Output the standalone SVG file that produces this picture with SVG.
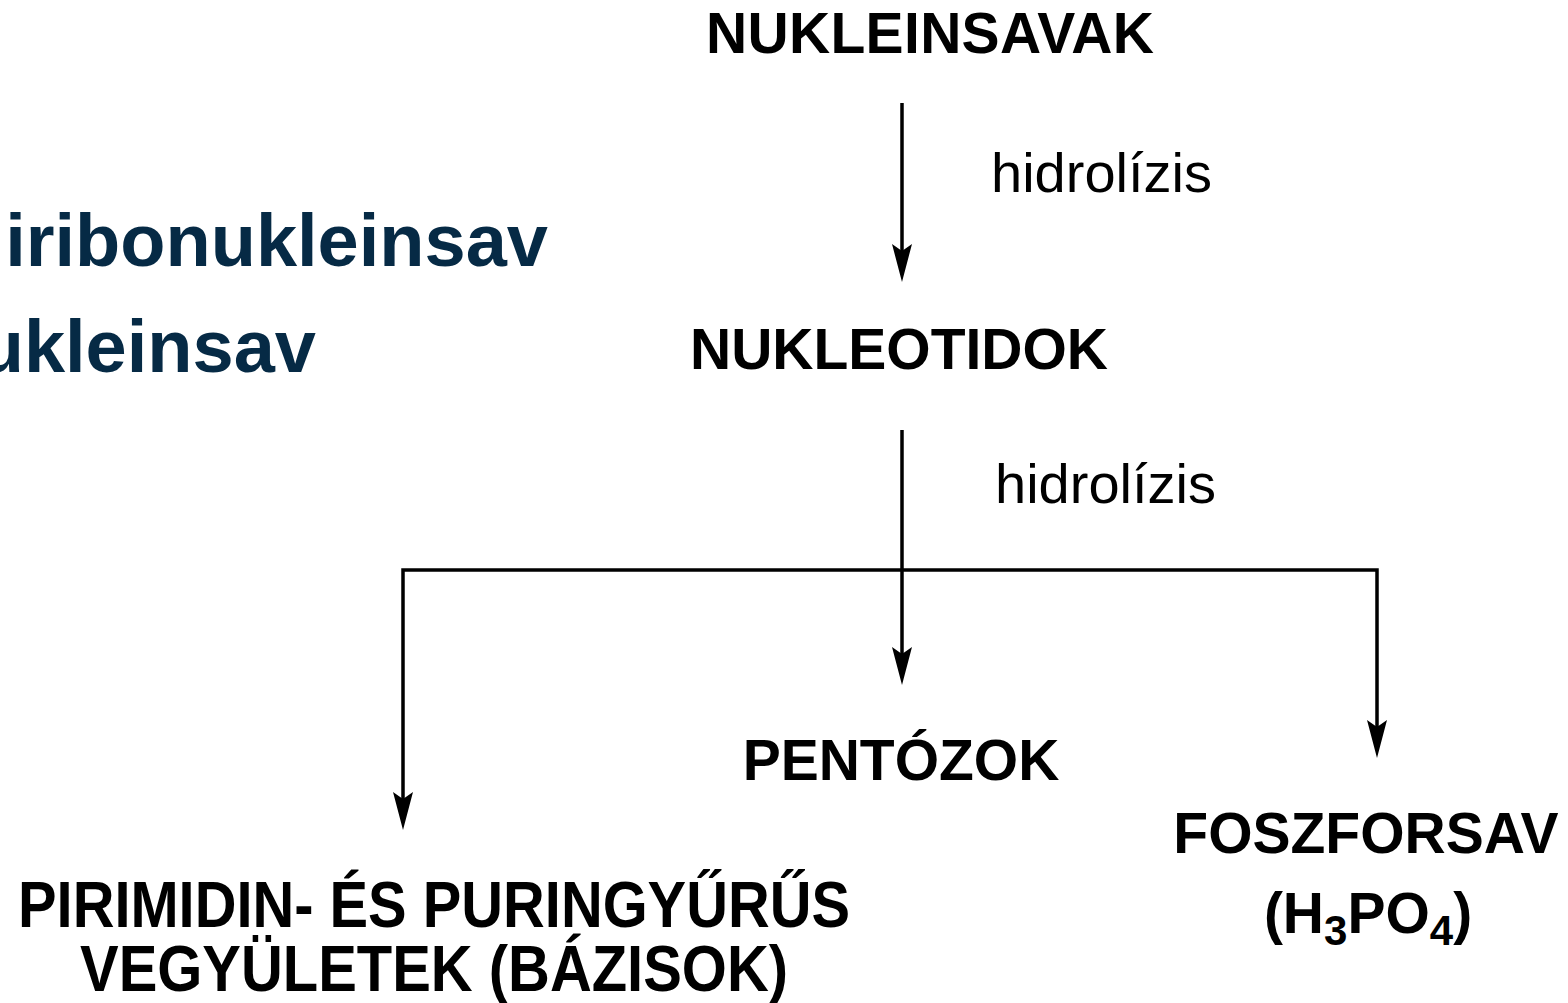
<svg xmlns="http://www.w3.org/2000/svg" width="1568" height="1003" viewBox="0 0 1568 1003">
<style>
.b{font-family:"Liberation Sans",Arial,sans-serif;font-weight:bold;font-size:57px;fill:#000;text-anchor:middle}
.r{font-family:"Liberation Sans",Arial,sans-serif;font-size:56px;fill:#000}
.n{font-family:"Liberation Sans",Arial,sans-serif;font-weight:bold;font-size:74px;fill:#062a45;text-anchor:end}
.c{font-family:"Liberation Sans",Arial,sans-serif;font-weight:bold;font-size:64px;fill:#000}
.ln{fill:none;stroke:#000;stroke-width:3.5;marker-end:url(#ah)}
</style>
<defs>
<marker id="ah" viewBox="-40 -11 42 22" markerWidth="42" markerHeight="22" refX="-10" refY="0" markerUnits="userSpaceOnUse" orient="auto">
<path d="M0,0 L-38,-10 L-31,0 L-38,10 Z" fill="#000"/>
</marker>
</defs>
<rect width="1568" height="1003" fill="#fff"/>
<g id="side">
<text class="n" x="548" y="266">iribonukleinsav</text>
<text class="n" x="316" y="372">ukleinsav</text>
</g>
<g id="nukleinsavak"><text class="b" x="930" y="53" textLength="448" lengthAdjust="spacing">NUKLEINSAVAK</text></g>
<g id="nukleotidok"><text class="b" x="899" y="369" textLength="418" lengthAdjust="spacing">NUKLEOTIDOK</text></g>
<g id="pentozok"><text class="b" x="901" y="780">PENTÓZOK</text></g>
<g id="foszforsav">
<text class="b" x="1366" y="853">FOSZFORSAV</text>
<text class="b" x="1368" y="933">(H<tspan font-size="42" dy="12">3</tspan><tspan dy="-12">PO</tspan><tspan font-size="42" dy="12">4</tspan><tspan dy="-12">)</tspan></text>
</g>
<g id="bazisok">
<text class="c" x="18" y="927" textLength="832" lengthAdjust="spacingAndGlyphs">PIRIMIDIN- ÉS PURINGYŰRŰS</text>
<text class="c" x="80" y="991" textLength="708" lengthAdjust="spacingAndGlyphs">VEGYÜLETEK (BÁZISOK)</text>
</g>
<g id="connectors">
<path class="ln" d="M902,103 V272"/>
<path class="ln" d="M902,430 V675"/>
<path class="ln" d="M902,570 H403 V820"/>
<path class="ln" d="M902,570 H1377 V748"/>
<text class="r" x="991" y="192">hidrolízis</text>
<text class="r" x="995" y="503">hidrolízis</text>
</g>
</svg>
